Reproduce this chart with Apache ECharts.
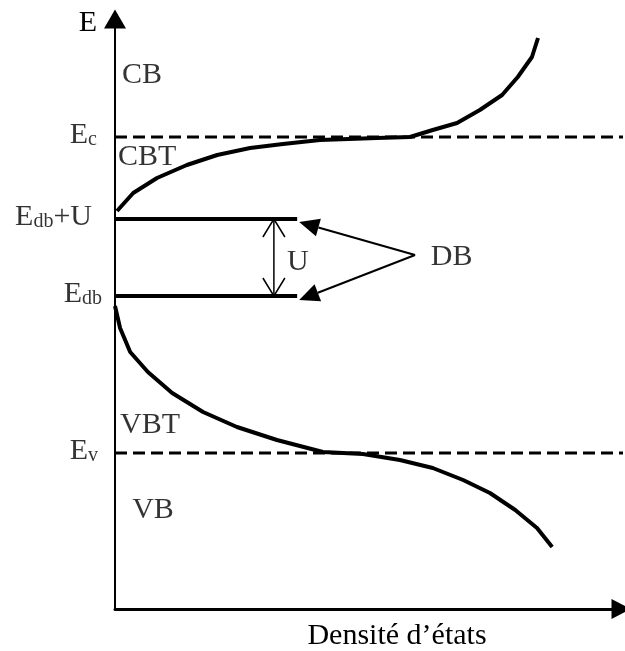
<!DOCTYPE html>
<html>
<head>
<meta charset="utf-8">
<script src="https://cdn.jsdelivr.net/npm/echarts@6/dist/echarts.min.js"></script>
<style>
  html, body { margin: 0; padding: 0; background: #fff; }
  #chart { width: 625px; height: 651px; }
</style>
</head>
<body>
<div id="chart"></div>
<script>
// Energy levels (arbitrary units)
const levelNames = ['E_c', 'E_db+U', 'E_db', 'E_v'];
const levelValues = [9.44, 7.80, 6.26, 3.12];

// Density of states above the gap (conduction band + tail): density, energy
const cbDensity = [0.04, 0.36, 0.83, 1.42, 2.02, 2.67, 3.32, 4.05, 5.18, 5.83, 6.28, 6.76, 7.21, 7.65, 7.96, 8.24, 8.36];
const cbEnergy  = [7.96, 8.32, 8.62, 8.88, 9.08, 9.22, 9.30, 9.38, 9.42, 9.44, 9.58, 9.72, 9.98, 10.28, 10.64, 11.04, 11.42];

// Density of states below the gap (valence band + tail): density, energy
const vbDensity = [0.00, 0.10, 0.30, 0.65, 1.13, 1.74, 2.41, 3.20, 4.11, 4.90, 5.63, 6.28, 6.88, 7.41, 7.91, 8.34, 8.64];
const vbEnergy  = [6.06, 5.62, 5.14, 4.74, 4.32, 3.94, 3.64, 3.38, 3.14, 3.10, 2.98, 2.82, 2.58, 2.32, 1.98, 1.62, 1.24];

// Dangling-bond levels: density extent
const dbDensity = 3.6;

// Region labels and their anchor points (density, energy)
const regionNames  = ['CB', 'CBT', 'VBT', 'VB', 'DB', 'U'];
const regionAnchor = [[0.14, 10.68], [0.06, 9.04], [0.10, 3.68], [0.34, 1.98], [6.24, 7.04], [3.40, 6.94]];

// "DB" pointers: from label to each dangling-bond level
const dbPointers = [[5.93, 7.08, 3.64, 7.74], [5.93, 7.08, 3.64, 6.18]];
// Correlation energy U between the two levels
const uArrowX = 3.14;

const FONT = "'Liberation Serif', 'Times New Roman', serif";
const BLACK = '#000';

function pairs(xs, ys) { return xs.map((x, i) => [x, ys[i]]); }

function levelLabel(name) {
  const [base, rest] = name.split('_');
  const m = rest.match(/^([a-z]+)(.*)$/);
  let s = '{m|' + base + '}{s|' + m[1] + '}';
  if (m[2]) s += '{m|' + m[2] + '}';
  return s;
}

const labelRich = {
  m: { fontFamily: FONT, fontSize: 30, lineHeight: 30, color: BLACK },
  s: { fontFamily: FONT, fontSize: 20, lineHeight: 13, color: BLACK, verticalAlign: 'bottom' }
};

const levelLabelGap = [18, 23, 13, 17];

function filledArrow(params, api) {
  const a = api.coord([api.value(0), api.value(1)]);
  const b = api.coord([api.value(2), api.value(3)]);
  const dx = a[0] - b[0], dy = a[1] - b[1];
  const len = Math.hypot(dx, dy);
  const ux = dx / len, uy = dy / len;
  const L = 20, W = 9;
  const base = [b[0] + ux * L, b[1] + uy * L];
  return {
    type: 'group',
    children: [
      { type: 'line', shape: { x1: a[0], y1: a[1], x2: base[0], y2: base[1] },
        style: { stroke: BLACK, lineWidth: 2 } },
      { type: 'polygon',
        shape: { points: [b, [base[0] - uy * W, base[1] + ux * W], [base[0] + uy * W, base[1] - ux * W]] },
        style: { fill: BLACK } }
    ]
  };
}

function openDoubleArrow(params, api) {
  const a = api.coord([api.value(0), api.value(1)]);
  const b = api.coord([api.value(2), api.value(3)]);
  const dx = b[0] - a[0], dy = b[1] - a[1];
  const len = Math.hypot(dx, dy);
  const ux = dx / len, uy = dy / len;
  const L = 18, W = 11;
  const head = (tip, sx, sy) => [
    [tip[0] + sx * L - sy * W, tip[1] + sy * L + sx * W],
    tip,
    [tip[0] + sx * L + sy * W, tip[1] + sy * L - sx * W]
  ];
  const st = { stroke: BLACK, lineWidth: 1.5, fill: null };
  return {
    type: 'group',
    children: [
      { type: 'line', shape: { x1: a[0], y1: a[1], x2: b[0], y2: b[1] }, style: st },
      { type: 'polyline', shape: { points: head(a, ux, uy) }, style: st },
      { type: 'polyline', shape: { points: head(b, -ux, -uy) }, style: st }
    ]
  };
}

const chart = echarts.init(document.getElementById('chart'), null, { renderer: 'canvas' });

const levelLines = [];
levelValues.forEach((v, i) => {
  const dashed = levelNames[i] === 'E_c' || levelNames[i] === 'E_v';
  levelLines.push({
    type: 'line',
    data: dashed ? [[0, v], [10.1, v]] : [[0, v], [dbDensity, v]],
    symbol: 'none',
    clip: false,
    lineStyle: dashed
      ? { color: BLACK, width: 3, type: [12, 6] }
      : { color: BLACK, width: 4 },
    z: 3
  });
});

chart.setOption({
  animation: false,
  backgroundColor: '#fff',
  grid: { left: 115, right: 4, top: 19, bottom: 42, containLabel: false, outerBoundsMode: 'none' },
  xAxis: {
    type: 'value', min: 0, max: 10,
    name: 'Densité d’états',
    nameLocation: 'middle',
    nameGap: 12,
    nameTextStyle: { fontFamily: FONT, fontSize: 30, color: BLACK, padding: [0, 0, 0, 58] },
    axisLine: { show: true, symbol: ['none', 'triangle'], symbolSize: [20, 19],
      lineStyle: { color: BLACK, width: 3 } },
    axisTick: { show: false }, axisLabel: { show: false }, splitLine: { show: false }
  },
  yAxis: {
    type: 'value', min: 0, max: 11.8,
    name: 'E',
    nameLocation: 'end',
    nameGap: -4,
    nameTextStyle: { fontFamily: FONT, fontSize: 30, color: BLACK, align: 'right',
      verticalAlign: 'middle', padding: [0, 18, 0, 0] },
    axisLine: { show: true, symbol: ['none', 'triangle'], symbolSize: [22, 19],
      lineStyle: { color: BLACK, width: 2 } },
    axisTick: { show: false }, axisLabel: { show: false }, splitLine: { show: false }
  },
  series: [
    ...levelLines,
    { type: 'line', data: pairs(cbDensity, cbEnergy), symbol: 'none', smooth: false,
      lineStyle: { color: BLACK, width: 4 }, z: 4 },
    { type: 'line', data: pairs(vbDensity, vbEnergy), symbol: 'none', smooth: false,
      lineStyle: { color: BLACK, width: 4 }, z: 4 },
    { type: 'custom', renderItem: filledArrow, data: dbPointers, z: 5 },
    { type: 'custom', renderItem: openDoubleArrow,
      data: [[uArrowX, levelValues[1], uArrowX, levelValues[2]]], z: 5 },
    { type: 'scatter', symbolSize: 0, z: 6,
      data: levelValues.map((v, i) => ({
        value: [0, v],
        label: { distance: levelLabelGap[i] }
      })),
      label: { show: true, position: 'left', offset: [0, -2],
        formatter: p => levelLabel(levelNames[p.dataIndex]), rich: labelRich } },
    { type: 'scatter', symbolSize: 0, z: 6,
      data: regionAnchor.map(p => p.slice()),
      label: { show: true, position: 'right', distance: 0,
        formatter: p => regionNames[p.dataIndex],
        fontFamily: FONT, fontSize: 30, color: BLACK } }
  ]
});
</script>
</body>
</html>
